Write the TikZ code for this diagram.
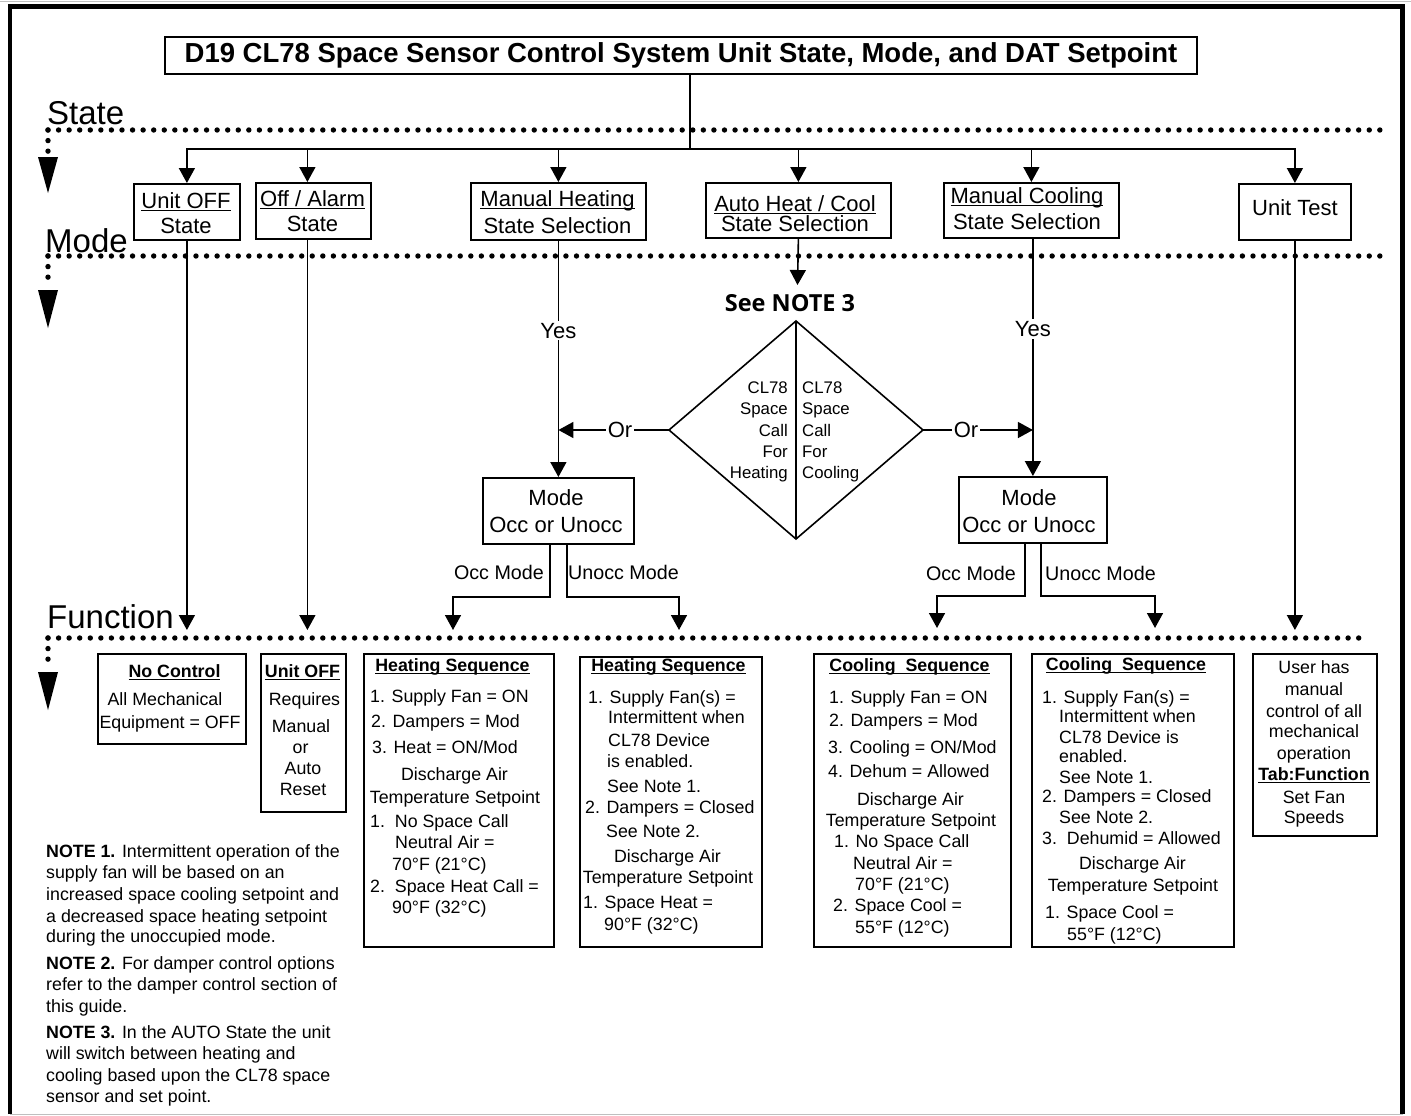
\documentclass[tikz,border=0pt]{standalone}
\usepackage{fontspec}
\setmainfont{Liberation Sans}
\newfontfamily\osfont{Open Sans}
\usetikzlibrary{arrows.meta,shapes.geometric}
\newcommand\fsA{\fontsize{17.8pt}{21pt}\selectfont}
\newcommand\fsB{\fontsize{22pt}{25pt}\selectfont}
\newcommand\fsC{\fontsize{19.7pt}{22pt}\selectfont}
\newcommand\fsD{\fontsize{16.8pt}{20pt}\selectfont}
\newcommand\fsE{\fontsize{33pt}{36pt}\selectfont}
\newcommand\fsT{\fontsize{27.5pt}{30pt}\selectfont\bfseries}
\newcommand\myul[1]{\setbox0\hbox{#1}\rlap{\rule[-3.2pt]{\wd0}{1.3pt}}\box0}
\newcounter{lnc}
\newcommand\Lin[4]{\stepcounter{lnc}\node[txt,#1] (L\arabic{lnc}) at (#2,#3) {#4};}
\begin{document}
\begin{tikzpicture}[x=1pt,y=-1pt,
  ln/.style={line width=1.6pt},
  arr/.style={line width=1.6pt,-{Triangle[width=16pt,length=15pt]}},
  bx/.style={draw,line width=1.8pt,inner sep=0pt,anchor=north west},
  txt/.style={inner sep=0pt},
  fa/.style={font=\fsA}, fb/.style={font=\fsB}, fc/.style={font=\fsC},
  fd/.style={font=\fsD}, fe/.style={font=\fsE},
  dotl/.style={line width=5.4pt,line cap=round,dash pattern=on 0pt off 10.57pt},
  bigtip/.style={fill},
  lbl/.style={font=\fsB,inner sep=2pt,fill=white}]
\useasboundingbox (0,0) rectangle (1411,1116);
% frame
\draw[gray!50,line width=1.5pt] (0,1.5) -- (1411,1.5);
\draw[line width=4.5pt] (10,1114) -- (10,6.5) -- (1402.5,6.5) -- (1402.5,1114);
\draw[gray!50,line width=1.5pt] (10,1114.5) -- (1402.5,1114.5);

% title
\node[draw,line width=2.2pt,minimum width=1032pt,minimum height=37pt,inner sep=0pt,font=\fsT] (T) at (681,55.5)
 {D19 CL78 Space Sensor Control System Unit State, Mode, and DAT Setpoint};

% section labels and dotted lines
\Lin{fe,anchor=base west}{47}{124}{State}
\Lin{fe,anchor=base west}{45}{252}{Mode}
\Lin{fe,anchor=base west}{47}{628}{Function}
\draw[dotl] (48,130) -- (1390,130);
\draw[dotl] (48,130) -- (48,153);
\fill[bigtip] (38,157) -- (58,157) -- (48,193) -- cycle;
\draw[dotl] (48,256) -- (1390,256);
\draw[dotl] (48,256) -- (48,280);
\fill[bigtip] (38,290) -- (58,290) -- (48,328) -- cycle;
\draw[dotl] (48,638) -- (1368,638);
\draw[dotl] (48,638) -- (48,661);
\fill[bigtip] (38,672) -- (58,672) -- (48,710) -- cycle;

% state boxes
\node[bx,minimum width=106pt,minimum height=56pt] (s1) at (133,183) {};
\node[bx,minimum width=115pt,minimum height=56pt] (s2) at (255,182) {};
\node[bx,minimum width=175pt,minimum height=57pt] (s3) at (470,182) {};
\node[bx,minimum width=185pt,minimum height=55pt] (s4) at (705,182) {};
\node[bx,minimum width=175pt,minimum height=55pt] (s5) at (943,182) {};
\node[bx,minimum width=112pt,minimum height=56pt] (s6) at (1238,183) {};
\Lin{fb,anchor=base}{186}{208}{\myul{Unit OFF}}
\Lin{fb,anchor=base}{186}{233}{State}
\Lin{fb,anchor=base}{312.5}{206}{\myul{Off / Alarm}}
\Lin{fb,anchor=base}{312.5}{231}{State}
\Lin{fb,anchor=base}{557.5}{206}{\myul{Manual Heating}}
\Lin{fb,anchor=base}{557.5}{233}{State Selection}
\Lin{fb,anchor=base}{795}{211}{\myul{Auto Heat / Cool}}
\Lin{fb,anchor=base}{795}{231}{State Selection}
\Lin{fb,anchor=base}{1027}{203}{\myul{Manual Cooling}}
\Lin{fb,anchor=base}{1027}{229}{State Selection}
\Lin{fb,anchor=base}{1295}{215}{Unit Test}

% title to states
\coordinate (br) at (690,149);
\draw[ln] (T.south -| br) -- (br);
\draw[arr] (br) -| (s1.north);
\draw[arr] (br) -| ([xshift=-6pt]s2.north);
\draw[arr] (br) -| (s3.north);
\draw[arr] (br) -| (s4.north);
\draw[arr] (br) -| (s5.north);
\draw[arr] (br) -| (s6.north);

% mode boxes
\node[bx,minimum width=151pt,minimum height=66pt] (m1) at (482,477) {};
\node[bx,minimum width=148pt,minimum height=66pt] (m2) at (958,476) {};
\Lin{fb,anchor=base}{556}{505}{Mode}
\Lin{fb,anchor=base}{556}{532}{Occ or Unocc}
\Lin{fb,anchor=base}{1029}{505}{Mode}
\Lin{fb,anchor=base}{1029}{532}{Occ or Unocc}

% diamond
\node[draw,diamond,minimum width=254pt,minimum height=218pt,inner sep=0pt,outer sep=0pt,line width=1.6pt] (dia) at (796,430) {};
\draw[ln] (dia.north) -- (dia.south);
\node[txt,anchor=base,font={\osfont\bfseries\fontsize{23.5pt}{26pt}\selectfont}] (sn3) at (790,311) {See NOTE 3};
\coordinate (aN) at (797.5,285);
\draw[arr] (s4.south) -- (aN);
\Lin{fd,anchor=base east}{788}{393}{CL78}
\Lin{fd,anchor=base east}{788}{414}{Space}
\Lin{fd,anchor=base east}{788}{436}{Call}
\Lin{fd,anchor=base east}{788}{457}{For}
\Lin{fd,anchor=base east}{788}{478}{Heating}
\Lin{fd,anchor=base west}{802}{393}{CL78}
\Lin{fd,anchor=base west}{802}{414}{Space}
\Lin{fd,anchor=base west}{802}{436}{Call}
\Lin{fd,anchor=base west}{802}{457}{For}
\Lin{fd,anchor=base west}{802}{478}{Cooling}

% yes paths
\draw[arr] (s3.south) -- node[lbl,pos=0.38] (yes1) {Yes} (m1.north);
\draw[arr] (m2.north |- s5.south) -- node[lbl,pos=0.38] (yes2) {Yes} (m2.north);
% or paths
\node[lbl] (orl) at (620,430) {Or};
\node[lbl] (orr) at (966,430) {Or};
\draw[ln] (dia.west) -- (orl.east);
\draw[arr] (orl.west) -- (orl.west -| m1.north);
\draw[ln] (dia.east) -- (orr.west);
\draw[arr] (orr.east) -- (orr.east -| m2.north);

% occ/unocc branches
\coordinate (c1) at (453,630);
\coordinate (c2) at (679,630);
\coordinate (c3) at (937,628);
\coordinate (c4) at (1155,628);
\draw[arr] ([xshift=-8.5pt]m1.south) -- ++(0,52) -| (c1);
\draw[arr] ([xshift=8.5pt]m1.south) -- ++(0,52) -| (c2);
\draw[arr] ([xshift=-8pt]m2.south) -- ++(0,52) -| (c3);
\draw[arr] ([xshift=8pt]m2.south) -- ++(0,52) -| (c4);
\Lin{fc,anchor=base east}{544}{579}{Occ Mode}
\Lin{fc,anchor=base west}{568}{579}{Unocc Mode}
\Lin{fc,anchor=base east}{1016}{580}{Occ Mode}
\Lin{fc,anchor=base west}{1045}{580}{Unocc Mode}

% straight drops
\coordinate (fA) at (0,630);
\draw[arr] (s1.south) -- (s1.south |- fA);
\draw[arr] ([xshift=-6pt]s2.south) -- ([xshift=-6pt]s2.south |- fA);
\draw[arr] (s6.south) -- (s6.south |- fA);

% function boxes
\node[bx,minimum width=148pt,minimum height=90pt] (f1) at (97,653) {};
\node[bx,minimum width=85pt,minimum height=158pt] (f2) at (260,653) {};
\node[bx,minimum width=190pt,minimum height=293pt] (f3) at (363,653) {};
\node[bx,minimum width=182pt,minimum height=290pt] (f4) at (579,656) {};
\node[bx,minimum width=197pt,minimum height=293pt] (f5) at (813,653) {};
\node[bx,minimum width=202pt,minimum height=293pt] (f6) at (1031,653) {};
\node[bx,minimum width=124pt,minimum height=182pt] (f7) at (1252,653) {};

% f1
\Lin{fa,anchor=base}{174.5}{677}{\myul{\bfseries No Control}}
\Lin{fa,anchor=base}{165}{705}{All Mechanical}
\Lin{fa,anchor=base}{170}{728}{Equipment = OFF}
% f2
\Lin{fa,anchor=base}{302.5}{677}{\myul{\bfseries Unit OFF}}
\Lin{fa,anchor=base}{304.5}{705}{Requires}
\Lin{fa,anchor=base}{301}{732}{Manual}
\Lin{fa,anchor=base}{300.6}{753}{or}
\Lin{fa,anchor=base}{303}{774}{Auto}
\Lin{fa,anchor=base}{303}{795}{Reset}
% f3
\Lin{fa,anchor=base}{452.5}{671}{\myul{\bfseries Heating Sequence}}
\Lin{fa,anchor=base west}{370}{702}{1. Supply Fan = ON}
\Lin{fa,anchor=base west}{371}{727}{2. Dampers = Mod}
\Lin{fa,anchor=base west}{372}{753}{3. Heat = ON/Mod}
\Lin{fa,anchor=base}{454.5}{780}{Discharge Air}
\Lin{fa,anchor=base}{455}{803}{Temperature Setpoint}
\Lin{fa,anchor=base west}{370}{827}{1.\ \ No Space Call}
\Lin{fa,anchor=base west}{395}{848}{Neutral Air =}
\Lin{fa,anchor=base west}{392}{870}{70°F (21°C)}
\Lin{fa,anchor=base west}{370}{892}{2.\ \ Space Heat Call =}
\Lin{fa,anchor=base west}{392}{913}{90°F (32°C)}
% f4
\Lin{fa,anchor=base}{668.5}{671}{\myul{\bfseries Heating Sequence}}
\Lin{fa,anchor=base west}{588}{703}{1. Supply Fan(s) =}
\Lin{fa,anchor=base west}{608}{723}{Intermittent when}
\Lin{fa,anchor=base west}{608}{746}{CL78 Device}
\Lin{fa,anchor=base west}{607}{767}{is enabled.}
\Lin{fa,anchor=base west}{607}{792}{See Note 1.}
\Lin{fa,anchor=base west}{585}{813}{2. Dampers = Closed}
\Lin{fa,anchor=base west}{606}{837}{See Note 2.}
\Lin{fa,anchor=base}{667.5}{862}{Discharge Air}
\Lin{fa,anchor=base}{668}{883}{Temperature Setpoint}
\Lin{fa,anchor=base west}{583}{908}{1. Space Heat =}
\Lin{fa,anchor=base west}{604}{930}{90°F (32°C)}
% f5
\Lin{fa,anchor=base}{909.5}{671}{\myul{\bfseries Cooling\ \ Sequence}}
\Lin{fa,anchor=base west}{829}{703}{1. Supply Fan = ON}
\Lin{fa,anchor=base west}{829}{726}{2. Dampers = Mod}
\Lin{fa,anchor=base west}{828}{753}{3. Cooling = ON/Mod}
\Lin{fa,anchor=base west}{828}{777}{4. Dehum = Allowed}
\Lin{fa,anchor=base}{910.5}{805}{Discharge Air}
\Lin{fa,anchor=base}{911}{826}{Temperature Setpoint}
\Lin{fa,anchor=base west}{834}{847}{1. No Space Call}
\Lin{fa,anchor=base west}{853}{869}{Neutral Air =}
\Lin{fa,anchor=base west}{855}{890}{70°F (21°C)}
\Lin{fa,anchor=base west}{833}{911}{2. Space Cool =}
\Lin{fa,anchor=base west}{855}{933}{55°F (12°C)}
% f6
\Lin{fa,anchor=base}{1126}{670}{\myul{\bfseries Cooling\ \ Sequence}}
\Lin{fa,anchor=base west}{1042}{703}{1. Supply Fan(s) =}
\Lin{fa,anchor=base west}{1059}{722}{Intermittent when}
\Lin{fa,anchor=base west}{1059}{743}{CL78 Device is}
\Lin{fa,anchor=base west}{1059}{762}{enabled.}
\Lin{fa,anchor=base west}{1059}{783}{See Note 1.}
\Lin{fa,anchor=base west}{1042}{802}{2. Dampers = Closed}
\Lin{fa,anchor=base west}{1059}{823}{See Note 2.}
\Lin{fa,anchor=base west}{1042}{844}{3.\ \ Dehumid = Allowed}
\Lin{fa,anchor=base}{1132.5}{869}{Discharge Air}
\Lin{fa,anchor=base}{1133}{891}{Temperature Setpoint}
\Lin{fa,anchor=base west}{1045}{918}{1. Space Cool =}
\Lin{fa,anchor=base west}{1067}{940}{55°F (12°C)}
% f7
\Lin{fa,anchor=base}{1314}{673}{User has}
\Lin{fa,anchor=base}{1314}{695}{manual}
\Lin{fa,anchor=base}{1314}{717}{control of all}
\Lin{fa,anchor=base}{1314}{737}{mechanical}
\Lin{fa,anchor=base}{1314}{759}{operation}
\Lin{fa,anchor=base}{1314}{780}{\myul{\bfseries Tab:Function}}
\Lin{fa,anchor=base}{1314}{803}{Set Fan}
\Lin{fa,anchor=base}{1314}{823}{Speeds}

% notes
\Lin{fa,anchor=base west}{46}{857}{\textbf{NOTE 1.} Intermittent operation of the}
\Lin{fa,anchor=base west}{46}{878}{supply fan will be based on an}
\Lin{fa,anchor=base west}{46}{900}{increased space cooling setpoint and}
\Lin{fa,anchor=base west}{46}{922}{a decreased space heating setpoint}
\Lin{fa,anchor=base west}{46}{942}{during the unoccupied mode.}
\Lin{fa,anchor=base west}{46}{969}{\textbf{NOTE 2.} For damper control options}
\Lin{fa,anchor=base west}{46}{990}{refer to the damper control section of}
\Lin{fa,anchor=base west}{46}{1012}{this guide.}
\Lin{fa,anchor=base west}{46}{1038}{\textbf{NOTE 3.} In the AUTO State the unit}
\Lin{fa,anchor=base west}{46}{1059}{will switch between heating and}
\Lin{fa,anchor=base west}{46}{1081}{cooling based upon the CL78 space}
\Lin{fa,anchor=base west}{46}{1102}{sensor and set point.}
\end{tikzpicture}
\end{document}
